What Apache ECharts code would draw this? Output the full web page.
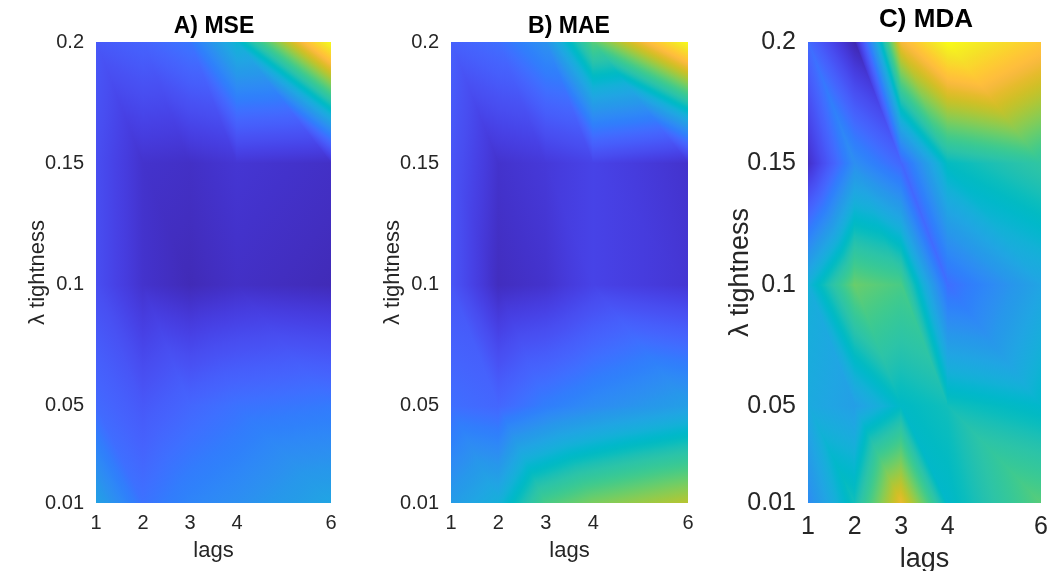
<!DOCTYPE html>
<html>
<head>
<meta charset="utf-8">
<script src="https://cdn.jsdelivr.net/npm/echarts@6/dist/echarts.min.js"></script>
<style>
html,body{margin:0;padding:0;background:#ffffff;}
#chart{width:1055px;height:571px;}
</style>
</head>
<body>
<div id="chart"></div>
<script>
// ---------------- data ----------------
const lags = [1, 2, 3, 4, 6];
const lambdas = [0.01, 0.05, 0.1, 0.15, 0.2];
const lagTicks = [1, 2, 3, 4, 6];
const lambdaTicks = [0.01, 0.05, 0.1, 0.15, 0.2];
const lambdaTickLabels = ['0.01', '0.05', '0.1', '0.15', '0.2'];
const panelTitles = ['A) MSE', 'B) MAE', 'C) MDA'];
const xName = 'lags';
const yName = '\u03BB tightness';

// colour index (0 = lowest, 1 = highest of each panel); rows = lambdas (0.01 -> 0.2), cols = lags
const mseValues = [
  [0.37, 0.23, 0.28, 0.31, 0.38],
  [0.21, 0.16, 0.20, 0.23, 0.25],
  [0.13, 0.05, 0.02, 0.04, 0.02],
  [0.13, 0.05, 0.04, 0.06, 0.04],
  [0.16, 0.19, 0.24, 0.44, 1.00]
];
const maeValues = [
  [0.35, 0.42, 0.60, 0.66, 0.73],
  [0.22, 0.20, 0.26, 0.30, 0.36],
  [0.15, 0.03, 0.05, 0.10, 0.06],
  [0.15, 0.05, 0.07, 0.10, 0.05],
  [0.18, 0.22, 0.32, 0.62, 1.00]
];
const mdaValues = [
  [0.30, 0.50, 0.80, 0.46, 0.62],
  [0.40, 0.36, 0.47, 0.50, 0.46],
  [0.42, 0.64, 0.60, 0.22, 0.38],
  [0.04, 0.31, 0.20, 0.48, 0.55],
  [0.21, 0.01, 0.82, 1.00, 0.87]
];

// ---------------- colormap (parula) ----------------
const parula = [
[0.2422,0.1504,0.6603],[0.2504,0.1650,0.7076],[0.2578,0.1818,0.7511],[0.2647,0.1978,0.7952],
[0.2706,0.2147,0.8364],[0.2751,0.2342,0.8710],[0.2783,0.2559,0.8991],[0.2803,0.2782,0.9221],
[0.2813,0.3006,0.9414],[0.2810,0.3228,0.9579],[0.2795,0.3447,0.9717],[0.2760,0.3667,0.9829],
[0.2699,0.3892,0.9906],[0.2602,0.4123,0.9952],[0.2440,0.4358,0.9988],[0.2206,0.4603,0.9973],
[0.1963,0.4847,0.9892],[0.1834,0.5074,0.9798],[0.1786,0.5289,0.9682],[0.1764,0.5499,0.9520],
[0.1687,0.5703,0.9359],[0.1540,0.5902,0.9218],[0.1460,0.6091,0.9079],[0.1380,0.6276,0.8973],
[0.1248,0.6459,0.8883],[0.1113,0.6635,0.8763],[0.0952,0.6798,0.8598],[0.0689,0.6948,0.8394],
[0.0297,0.7082,0.8163],[0.0036,0.7203,0.7917],[0.0067,0.7312,0.7660],[0.0433,0.7411,0.7394],
[0.0964,0.7500,0.7120],[0.1408,0.7584,0.6842],[0.1717,0.7670,0.6554],[0.1938,0.7758,0.6251],
[0.2161,0.7843,0.5923],[0.2470,0.7918,0.5567],[0.2906,0.7973,0.5188],[0.3406,0.8008,0.4789],
[0.3909,0.8029,0.4354],[0.4456,0.8024,0.3909],[0.5044,0.7993,0.3480],[0.5616,0.7942,0.3045],
[0.6174,0.7876,0.2612],[0.6720,0.7793,0.2227],[0.7242,0.7698,0.1910],[0.7738,0.7598,0.1646],
[0.8203,0.7498,0.1535],[0.8634,0.7406,0.1596],[0.9035,0.7330,0.1774],[0.9393,0.7288,0.2100],
[0.9728,0.7298,0.2394],[0.9956,0.7434,0.2371],[0.9970,0.7659,0.2199],[0.9952,0.7893,0.2028],
[0.9892,0.8136,0.1885],[0.9786,0.8386,0.1766],[0.9676,0.8639,0.1643],[0.9610,0.8890,0.1537],
[0.9597,0.9135,0.1423],[0.9628,0.9373,0.1265],[0.9691,0.9606,0.1064],[0.9769,0.9839,0.0805]
];
function rgb(c){return 'rgb('+Math.round(c[0]*255)+','+Math.round(c[1]*255)+','+Math.round(c[2]*255)+')';}
const stops = parula.map((c,k)=>({offset:k/(parula.length-1), color:rgb(c)}));
function colorAt(v){
  v=Math.max(0,Math.min(1,v));
  const f=v*(parula.length-1), k=Math.min(parula.length-2,Math.floor(f)), t=f-k;
  const a=parula[k], b=parula[k+1];
  return rgb([a[0]+(b[0]-a[0])*t,a[1]+(b[1]-a[1])*t,a[2]+(b[2]-a[2])*t]);
}

// triangle with linearly interpolated colour index
function tri(p, v){
  const x0=p[0][0], y0=p[0][1];
  const dx1=p[1][0]-x0, dy1=p[1][1]-y0, dv1=v[1]-v[0];
  const dx2=p[2][0]-x0, dy2=p[2][1]-y0, dv2=v[2]-v[0];
  const det=dx1*dy2-dy1*dx2;
  let fill;
  if (Math.abs(det)<1e-9){ fill=colorAt((v[0]+v[1]+v[2])/3); }
  else {
    const a=(dv1*dy2-dy1*dv2)/det, b=(dx1*dv2-dv1*dx2)/det;
    const g2=a*a+b*b;
    if (g2<1e-14){ fill=colorAt(v[0]); }
    else {
      const ts=(0-v[0])/g2, te=(1-v[0])/g2;
      fill=new echarts.graphic.LinearGradient(x0+a*ts, y0+b*ts, x0+a*te, y0+b*te, stops, true);
    }
  }
  return {type:'polygon', shape:{points:p}, style:{fill:fill, stroke:fill, lineWidth:1.5, lineJoin:'round'}};
}

function surfaceSeries(idx, values){
  const cells=[];
  for(let j=0;j<lambdas.length-1;j++) for(let i=0;i<lags.length-1;i++) cells.push([i,j]);
  return {
    type:'custom', xAxisIndex:idx, yAxisIndex:idx, silent:true, clip:true, animation:false,
    data:cells,
    renderItem:function(params, api){
      const i=api.value(0), j=api.value(1);
      const P=(a,b)=>api.coord([lags[a], lambdas[b]]);
      const tl=P(i,j+1), tr=P(i+1,j+1), bl=P(i,j), br=P(i+1,j);
      const vtl=values[j+1][i], vtr=values[j+1][i+1], vbl=values[j][i], vbr=values[j][i+1];
      return {type:'group', children:[
        tri([tl,tr,br],[vtl,vtr,vbr]),
        tri([tl,bl,br],[vtl,vbl,vbr])
      ]};
    }
  };
}

// ---------------- layout ----------------
const FONT='"Liberation Sans", Arial, Helvetica, sans-serif';
const grids=[
  {left:96, top:42, width:235, height:461, outerBoundsMode:'none', containLabel:false},
  {left:451, top:42, width:237, height:461, outerBoundsMode:'none', containLabel:false},
  {left:808, top:42, width:233, height:461, outerBoundsMode:'none', containLabel:false}
];
const tickSize=[20,20,25];
const nameSize=[22,22,27];
const xNameGap=[37,37,43];
const xLabelMargin=[10,10,12];
const yNameGap=[47,47,54];

const xAxes=grids.map((g,k)=>({
  type:'value', gridIndex:k, min:1, max:6,
  name:xName, nameLocation:'middle', nameGap:xNameGap[k], nameMoveOverlap:false,
  nameTextStyle:{fontFamily:FONT, fontSize:nameSize[k], color:'#262626'},
  axisLine:{show:false}, axisTick:{show:false}, splitLine:{show:false},
  axisLabel:{customValues:lagTicks, fontFamily:FONT, fontSize:tickSize[k], color:'#262626', margin:xLabelMargin[k],
    formatter:(v)=>String(v)}
}));
const yAxes=grids.map((g,k)=>({
  type:'value', gridIndex:k, min:0.01, max:0.2,
  name:yName, nameLocation:'middle', nameGap:yNameGap[k], nameRotate:90, nameMoveOverlap:false,
  nameTextStyle:{fontFamily:FONT, fontSize:nameSize[k], color:'#262626'},
  axisLine:{show:false}, axisTick:{show:false}, splitLine:{show:false},
  axisLabel:{customValues:lambdaTicks, fontFamily:FONT, fontSize:tickSize[k], color:'#262626', margin:12,
    formatter:(v)=>{const n=lambdaTicks.findIndex(t=>Math.abs(t-v)<1e-9); return n>=0?lambdaTickLabels[n]:'';}}
}));

const titleGraphics=[
  {type:'text', x:214, y:27, style:{text:panelTitles[0], font:'bold 23px '+FONT, fill:'#000', align:'center', verticalAlign:'middle'}},
  {type:'text', x:569, y:27, style:{text:panelTitles[1], font:'bold 23px '+FONT, fill:'#000', align:'center', verticalAlign:'middle'}},
  {type:'text', x:926, y:20, style:{text:panelTitles[2], font:'bold 26px '+FONT, fill:'#000', align:'center', verticalAlign:'middle'}}
];

const chart=echarts.init(document.getElementById('chart'), null, {renderer:'canvas'});
chart.setOption({
  backgroundColor:'#ffffff',
  animation:false,
  grid:grids,
  xAxis:xAxes,
  yAxis:yAxes,
  graphic:titleGraphics,
  series:[surfaceSeries(0,mseValues), surfaceSeries(1,maeValues), surfaceSeries(2,mdaValues)]
});
</script>
</body>
</html>
